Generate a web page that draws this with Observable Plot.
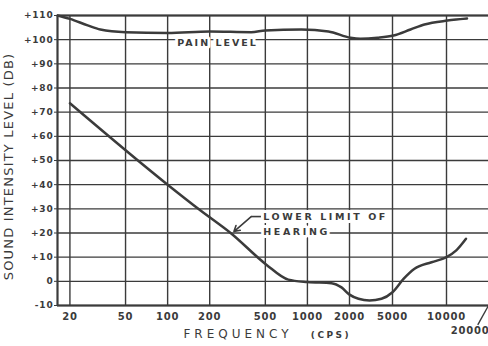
<!DOCTYPE html>
<html><head><meta charset="utf-8">
<script src="https://cdn.jsdelivr.net/npm/d3@7"></script>
<script src="https://cdn.jsdelivr.net/npm/@observablehq/plot@0.6"></script>
<style>
html,body{margin:0;padding:0;background:#fff;}
#chart svg{display:block;}
</style></head><body><div id="chart"></div>
<script>
// Axis ticks
const xTicks = [20, 50, 100, 200, 500, 1000, 2000, 5000, 10000];
const xTickLabels = ["20", "50", "100", "200", "500", "1000", "2000", "5000", "10000"];
const xEndLabel = "20000";
const xEndValue = 20000;
const yTicks = [-10, 0, 10, 20, 30, 40, 50, 60, 70, 80, 90, 100, 110];
const yTickLabels = ["-10", "0", "+10", "+20", "+30", "+40", "+50", "+60", "+70", "+80", "+90", "+100", "+110"];

// Pain level curve (frequency cps, level dB)
const painFreq = [16.3, 20, 26.8, 33, 50, 100, 200, 396, 500, 905, 1414, 2043, 2528, 3631, 5064, 6300, 7535, 10160, 13150, 14030];
const painDb   = [110, 108.6, 105.9, 104.2, 103.1, 102.8, 103.4, 103.1, 103.8, 104.2, 103.4, 100.8, 100.4, 100.8, 101.7, 104.2, 106.3, 107.9, 108.6, 108.8];

// Lower limit of hearing curve
const hearFreq = [20, 100, 173, 285, 506, 730, 1000, 1486, 1753, 2000, 2422, 3063, 3954, 5000, 5760, 6635, 8251, 10000, 11750, 13800];
const hearDb   = [73.7, 40, 29.2, 19.8, 7.0, 0.7, -0.3, -0.75, -2.5, -5.5, -7.2, -7.9, -7.2, -4.5, 1.0, 5.2, 7.9, 10, 12.8, 17.6];

// Annotations
const painLabel = {text: "PAIN LEVEL", f: 117, db: 98.8};
const hearLabel1 = {text: "LOWER LIMIT OF", f: 483, db: 26.8};
const hearLabel2 = {text: "HEARING", f: 483, db: 20.6};
const hearArrow = {f1: 396, db1: 26.8, f2: 298, db2: 20.6};
const hearHook = {f1: 396, db1: 26.8, f2: 465, db2: 26.8};
const endLeader = {f1: 20000, db1: -10, f2: 16750, db2: -18};
const xTitle = "FREQUENCY";
const xUnit = "(CPS)";
const yTitle = "SOUND INTENSITY LEVEL (DB)";

const pain = painFreq.map((f, i) => ({f, db: painDb[i]}));
const hear = hearFreq.map((f, i) => ({f, db: hearDb[i]}));
const xTickData = xTicks.map((f, i) => ({f, label: xTickLabels[i]}));

const ink = "#3b3b3b";
const font = "'DejaVu Sans', sans-serif";

const chart = Plot.plot({
  width: 488, height: 346,
  marginTop: 15, marginBottom: 41, marginLeft: 57, marginRight: 0,
  style: {background: "#fff", fontFamily: font, color: ink, overflow: "visible"},
  x: {type: "log", axis: null, domain: [16.3, 2000, 5000, 10000, 20000], range: [57, 349, 392, 446, 488]},
  y: {domain: [-10, 110], range: [305, 15]},
  marks: [
    Plot.gridY(yTicks, {stroke: ink, strokeOpacity: 1, strokeWidth: 1.4}),
    Plot.gridX(xTicks, {stroke: ink, strokeOpacity: 1, strokeWidth: 1.4}),
    Plot.ruleX([16.3], {stroke: ink, strokeWidth: 2.2}),
    Plot.ruleY([-10], {stroke: ink, strokeWidth: 2.2}),
    Plot.ruleY([110], {stroke: ink, strokeWidth: 1.8}),
    Plot.axisY(yTicks, {tickFormat: d => yTickLabels[yTicks.indexOf(d)], tickSize: 3, tickPadding: 1, fontSize: 9, fontWeight: "bold", label: null, fontFamily: font}),
    Plot.text(xTickData, {x: "f", y: -10, text: "label", dy: 11, lineAnchor: "middle", fontSize: 10, fontWeight: "bold", fill: ink}),
    Plot.text([xEndLabel], {x: xEndValue, y: -10, text: d => d, textAnchor: "end", lineAnchor: "middle", dy: 25, dx: 1, fontSize: 10, fontWeight: "bold", fill: ink}),
    Plot.link([endLeader], {x1: "f1", y1: "db1", x2: "f2", y2: "db2", stroke: ink, strokeWidth: 1.4}),
    Plot.line(pain, {x: "f", y: "db", curve: "monotone-x", stroke: ink, strokeWidth: 2.5}),
    Plot.line(hear, {x: "f", y: "db", curve: "monotone-x", stroke: ink, strokeWidth: 2.5}),
    Plot.text([painLabel], {x: "f", y: "db", text: "text", textAnchor: "start", fontSize: 9.5, fontWeight: "bold", fill: ink, stroke: "white", strokeWidth: 6}),
    Plot.text([hearLabel1, hearLabel2], {x: "f", y: "db", text: "text", textAnchor: "start", fontSize: 9.5, fontWeight: "bold", fill: ink, stroke: "white", strokeWidth: 6}),
    Plot.link([hearHook], {x1: "f1", y1: "db1", x2: "f2", y2: "db2", stroke: ink, strokeWidth: 1.6}),
    Plot.arrow([hearArrow], {x1: "f1", y1: "db1", x2: "f2", y2: "db2", stroke: ink, strokeWidth: 1.6, headLength: 6}),
    Plot.text([xTitle], {frameAnchor: "bottom", text: d => d, textAnchor: "middle", lineAnchor: "middle", dx: -35, dy: 29, fontSize: 12, fill: ink}),
    Plot.text([xUnit], {frameAnchor: "bottom", text: d => d, textAnchor: "middle", lineAnchor: "middle", dx: 58, dy: 30, fontSize: 9, fontWeight: "bold", fill: ink}),
    Plot.text([yTitle], {frameAnchor: "left", text: d => d, textAnchor: "middle", lineAnchor: "middle", rotate: -90, dx: -49, dy: 6, fontSize: 13, fill: ink})
  ]
});
document.getElementById("chart").appendChild(chart);

// letter spacing of the hand lettering
const spacing = {"FREQUENCY": 4, "(CPS)": 2.5, "SOUND INTENSITY LEVEL (DB)": 1.2, "PAIN LEVEL": 2, "LOWER LIMIT OF": 2.6, "HEARING": 2.6};
d3.select(chart).selectAll("text").each(function() {
  const t = this.textContent;
  if (t in spacing) this.style.letterSpacing = spacing[t] + "px";
  else this.style.letterSpacing = "0.8px";
});
</script></body></html>
